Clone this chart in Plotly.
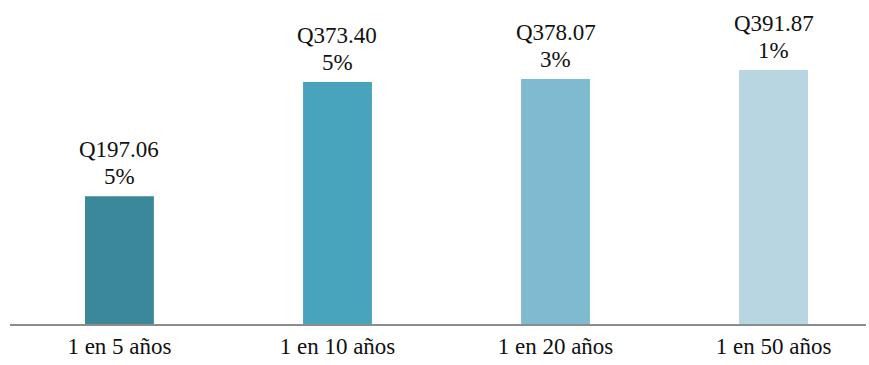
import plotly.graph_objects as go

categories = ["1 en 5 años", "1 en 10 años", "1 en 20 años", "1 en 50 años"]
amounts = [197.06, 373.40, 378.07, 391.87]
percents = ["5%", "5%", "3%", "1%"]
bar_colors = ["#3A8899", "#48A3BC", "#7EBBD0", "#B7D6E1"]

FONT = "Liberation Serif, Times New Roman, serif"

fig = go.Figure(
    go.Bar(
        x=categories,
        y=amounts,
        marker=dict(color=bar_colors, line=dict(width=0)),
        width=0.316,
        hoverinfo="skip",
    )
)

# Two-line value labels above each bar: amount on top, percentage below it
annotations = []
for cat, amt, pct in zip(categories, amounts, percents):
    annotations.append(dict(
        x=cat, y=amt, text=pct, showarrow=False,
        xanchor="center", yanchor="bottom", yshift=5,
        font=dict(family=FONT, size=23, color="#111111"),
    ))
    annotations.append(dict(
        x=cat, y=amt, text=f"Q{amt:.2f}", showarrow=False,
        xanchor="center", yanchor="bottom", yshift=32,
        font=dict(family=FONT, size=23, color="#111111"),
    ))

fig.update_layout(
    width=869,
    height=365,
    margin=dict(l=10, r=3, t=0, b=41),
    paper_bgcolor="white",
    plot_bgcolor="white",
    showlegend=False,
    annotations=annotations,
    xaxis=dict(
        range=[-0.502, 3.424],
        showline=True,
        linecolor="#8C8C8C",
        linewidth=2,
        showgrid=False,
        zeroline=False,
        ticks="",
        tickfont=dict(family=FONT, size=23, color="#111111"),
        fixedrange=True,
    ),
    yaxis=dict(
        range=[0, 500],
        visible=False,
        showgrid=False,
        zeroline=False,
        fixedrange=True,
    ),
)

fig.write_html("out.html")
